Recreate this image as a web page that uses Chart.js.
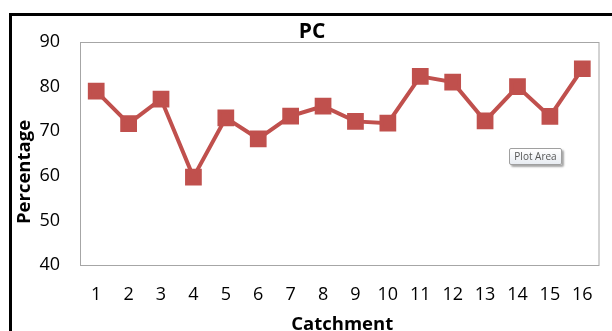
<!DOCTYPE html>
<html>
<head>
<meta charset="utf-8">
<script src="https://cdn.jsdelivr.net/npm/chart.js@4/dist/chart.umd.min.js"></script>
<style>
    html, body { margin: 0; padding: 0; background: #fff; overflow: hidden; }
    #wrap { position: relative; width: 612px; height: 331px; }
    #frame {
        position: absolute; left: 9px; top: 13px; width: 620px; height: 340px;
        border-top: 3px solid #000; border-left: 3px solid #000;
    }
    #tip {
        position: absolute; left: 509px; top: 148px; width: 51px; height: 15px;
        border: 1px solid #a0a0a0; border-radius: 2px;
        background: linear-gradient(#ffffff, #e8ecf2);
        box-shadow: 2px 2px 2px rgba(0,0,0,0.35);
        font: 10px "Open Sans", sans-serif; color: #555; text-align: center; line-height: 15px;
    }
    canvas { position: absolute; left: 0; top: 0; }
</style>
</head>
<body>
<div id="wrap">
    <div id="frame"></div>
    <canvas id="pcChart" width="612" height="331"></canvas>
    <div id="tip">Plot Area</div>
</div>
<script>
// Catchment numbers and PC percentages
const catchments = ['1', '2', '3', '4', '5', '6', '7', '8', '9', '10', '11', '12', '13', '14', '15', '16'];
const pcValues = [79, 71.7, 77.2, 59.7, 73, 68.3, 73.4, 75.6, 72.2, 71.8, 82.3, 81, 72.3, 80, 73.3, 84];
const yTicks = [40, 50, 60, 70, 80, 90];

const lineColor = '#C0504D';
const tickFont = { family: 'Open Sans', size: 18 };

// plot area border, "PC" title and the two axis titles
const plotFrame = {
    id: 'plotFrame',
    beforeDatasetsDraw(chart) {
        const { ctx, chartArea: a } = chart;
        ctx.save();
        ctx.strokeStyle = '#a6a6a6';
        ctx.lineWidth = 1;
        ctx.strokeRect(a.left + 0.5, a.top + 0.5, a.right - a.left, a.bottom - a.top);
        ctx.restore();
    },
    afterDraw(chart) {
        const { ctx, chartArea: a } = chart;
        ctx.save();
        ctx.fillStyle = '#000';
        ctx.textAlign = 'center';
        ctx.textBaseline = 'middle';
        ctx.font = 'bold 21px "Open Sans"';
        ctx.fillText('PC', 312, 32);
        ctx.font = 'bold 18.5px "Open Sans"';
        ctx.fillText('Catchment', (a.left + a.right) / 2 + 3, 325);
        ctx.translate(25, 172);
        ctx.rotate(-Math.PI / 2);
        ctx.fillText('Percentage', 0, 0);
        ctx.restore();
    }
};

new Chart(document.getElementById('pcChart').getContext('2d'), {
    type: 'line',
    data: {
        labels: catchments,
        datasets: [{
            data: pcValues,
            borderColor: lineColor,
            backgroundColor: lineColor,
            borderWidth: 4,
            pointStyle: 'rect',
            pointRadius: 9,
            pointHoverRadius: 9,
            tension: 0
        }]
    },
    options: {
        responsive: false,
        animation: false,
        layout: { padding: { left: 10, right: 6, top: 42, bottom: 0 } },
        plugins: { legend: { display: false }, tooltip: { enabled: false } },
        scales: {
            x: {
                offset: true,
                grid: { display: false, drawTicks: false },
                border: { display: false },
                ticks: { color: '#000', font: tickFont, padding: 19, maxRotation: 0 },
                afterFit(scale) { scale.height = 66; }
            },
            y: {
                min: 40,
                max: 90,
                grid: { display: false, drawTicks: false },
                border: { display: false },
                afterBuildTicks(scale) { scale.ticks = yTicks.map(v => ({ value: v })); },
                ticks: { color: '#000', font: tickFont, padding: 20 },
                afterFit(scale) { scale.width = 70; }
            }
        }
    },
    plugins: [plotFrame]
});
</script>
</body>
</html>
